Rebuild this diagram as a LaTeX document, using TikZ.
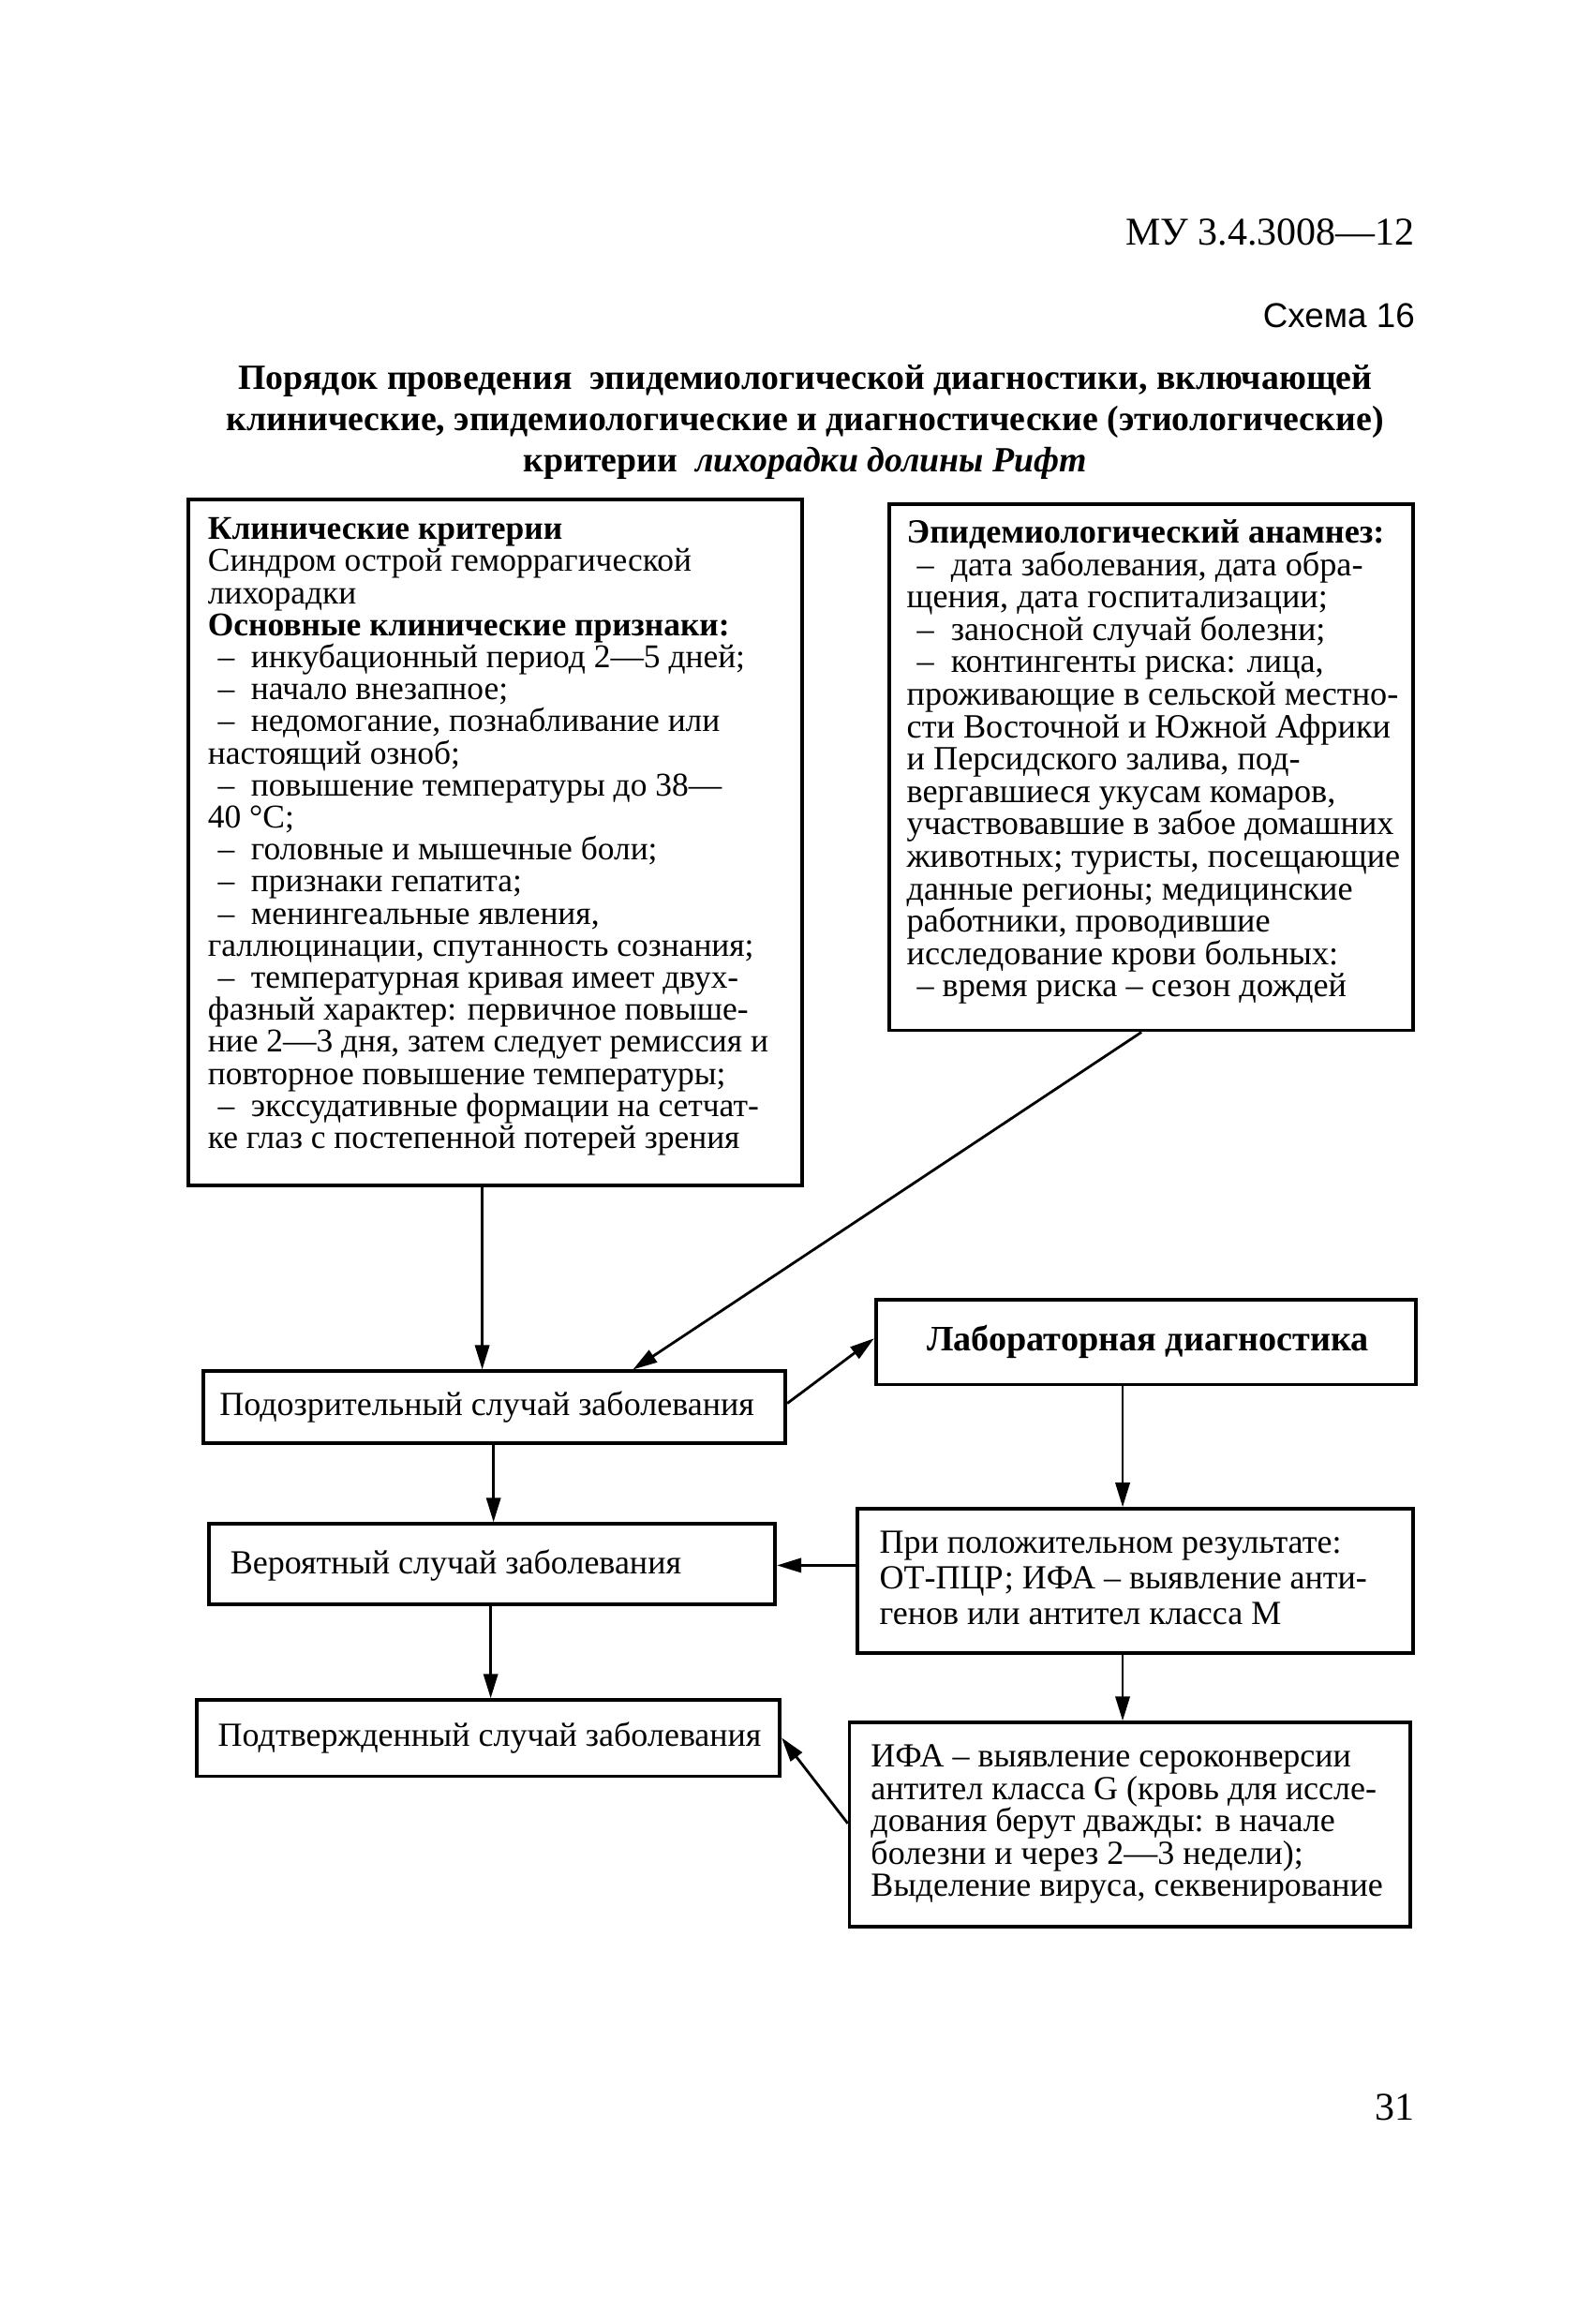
\documentclass[tikz,border=0pt]{standalone}
\usepackage{fontspec}
\setmainfont{Liberation Serif}
\setsansfont{Liberation Sans}
\usetikzlibrary{arrows.meta,fit}
\newcommand{\fixls}{\lineskiplimit=-20pt\lineskip=0pt}
\begin{document}
\begin{tikzpicture}[x=0.25127pt,y=-0.25127pt,
  box/.style={draw,line width=0.95pt,inner sep=0pt},
  txtL/.style={inner sep=0pt,anchor=north west,align=left,font=\fontsize{8.86}{8.55}\selectfont\fixls},
  txtR/.style={inner sep=0pt,anchor=north west,align=left,font=\fontsize{9.06}{8.65}\selectfont\fixls},
  one/.style={inner sep=0pt,font=\fontsize{9}{8.6}\selectfont},
  arr/.style={line width=0.7pt,-{Triangle[length=6.5pt,width=3.8pt]}}]
\useasboundingbox (0,0) rectangle (1691.4,2467.5);

% header
\node[inner sep=0pt,anchor=base east,font=\fontsize{10.5}{12}\selectfont] (hdr) at (1503,260) {МУ 3.4.3008—12};
\node[inner sep=0pt,anchor=base east,font=\sffamily\fontsize{9.2}{11}\selectfont] (sch) at (1503,348) {Схема 16};
\node[inner sep=0pt,anchor=north,align=center,font=\bfseries\fontsize{9.45}{11}\selectfont\fixls] (ttl) at (855,387)
 {Порядок проведения\ \ эпидемиологической диагностики, включающей\\
  клинические, эпидемиологические и диагностические (этиологические)\\
  критерии\ \ \textit{лихорадки долины Рифт}};

% boxes
\node[box,fit={(200,530) (852,1259)}] (L) {};
\node[box,fit={(944,535) (1500,1094)}] (R) {};
\node[box,fit={(216,1456) (834,1532)}] (S) {};
\node[box,fit={(930,1380) (1503,1470)}] (B) {};
\node[box,fit={(222,1618) (823,1703)}] (P) {};
\node[box,fit={(910,1602) (1500,1755)}] (Q) {};
\node[box,fit={(209,1805) (828,1886)}] (C) {};
\node[box,fit={(902,1829) (1497,2046)}] (I) {};

% texts
\node[txtL] (Lt) at (220,549) {%
\textbf{Клинические критерии}\\
Синдром острой геморрагической\\
лихорадки\\
\textbf{Основные клинические признаки:}\\
\hspace{0.3em}– \ инкубационный период 2—5 дней;\\
\hspace{0.3em}– \ начало внезапное;\\
\hspace{0.3em}– \ недомогание, познабливание или\\
настоящий озноб;\\
\hspace{0.3em}– \ повышение температуры до 38—\\
40 °C;\\
\hspace{0.3em}– \ головные и мышечные боли;\\
\hspace{0.3em}– \ признаки гепатита;\\
\hspace{0.3em}– \ менингеальные явления,\\
галлюцинации, спутанность сознания;\\
\hspace{0.3em}– \ температурная кривая имеет двух-\\
фазный характер: первичное повыше-\\
ние 2—3 дня, затем следует ремиссия и\\
повторное повышение температуры;\\
\hspace{0.3em}– \ экссудативные формации на сетчат-\\
ке глаз с постепенной потерей зрения};

\node[txtR] (Rt) at (962,551) {%
\textbf{Эпидемиологический анамнез:}\\
\hspace{0.3em}– \ дата заболевания, дата обра-\\
щения, дата госпитализации;\\
\hspace{0.3em}– \ заносной случай болезни;\\
\hspace{0.3em}– \ контингенты риска: лица,\\
проживающие в сельской местно-\\
сти Восточной и Южной Африки\\
и Персидского залива, под-\\
вергавшиеся укусам комаров,\\
участвовавшие в забое домашних\\
животных; туристы, посещающие\\
данные регионы; медицинские\\
работники, проводившие\\
исследование крови больных:\\
\hspace{0.3em}– время риска – сезон дождей};

\node[one] (St) at (517,1494) {Подозрительный случай заболевания};
\node[one,font=\bfseries\fontsize{9.55}{9}\selectfont] (Bt) at (1219,1425) {Лабораторная диагностика};
\node[one] (Pt) at (484,1662) {Вероятный случай заболевания};
\node[one] (Ct) at (520,1845) {Подтвержденный случай заболевания};
\node[txtL,font=\fontsize{9}{9.5}\selectfont\fixls] (Qt) at (933,1625) {%
При положительном результате:\\
ОТ-ПЦР; ИФА – выявление анти-\\
генов или антител класса М};
\node[txtL,font=\fontsize{9}{8.6}\selectfont\fixls] (It) at (924,1852) {%
ИФА – выявление сероконверсии\\
антител класса G (кровь для иссле-\\
дования берут дважды: в начале\\
болезни и через 2—3 недели);\\
Выделение вируса, секвенирование};

\node[inner sep=0pt,anchor=base east,font=\fontsize{10.5}{12}\selectfont] (pg) at (1503,2251) {31};

% connectors
\draw[arr] (512,0 |- L.south) -- (512,0 |- S.north);
\draw[arr] (1212,0 |- R.south) -- (672,0 |- S.north);
\draw[arr] (S.east |- 0,1490) -- (B.west |- 0,1421);
\draw[arr] (1192,0 |- B.south) -- (1192,0 |- Q.north);
\draw[arr] (524,0 |- S.south) -- (524,0 |- P.north);
\draw[arr] (Q.west |- 0,1662) -- (P.east |- 0,1662);
\draw[arr] (521,0 |- P.south) -- (521,0 |- C.north);
\draw[arr] (1192,0 |- Q.south) -- (1192,0 |- I.north);
\draw[arr] (I.west |- 0,1936) -- (C.east |- 0,1845);
\end{tikzpicture}
\end{document}
